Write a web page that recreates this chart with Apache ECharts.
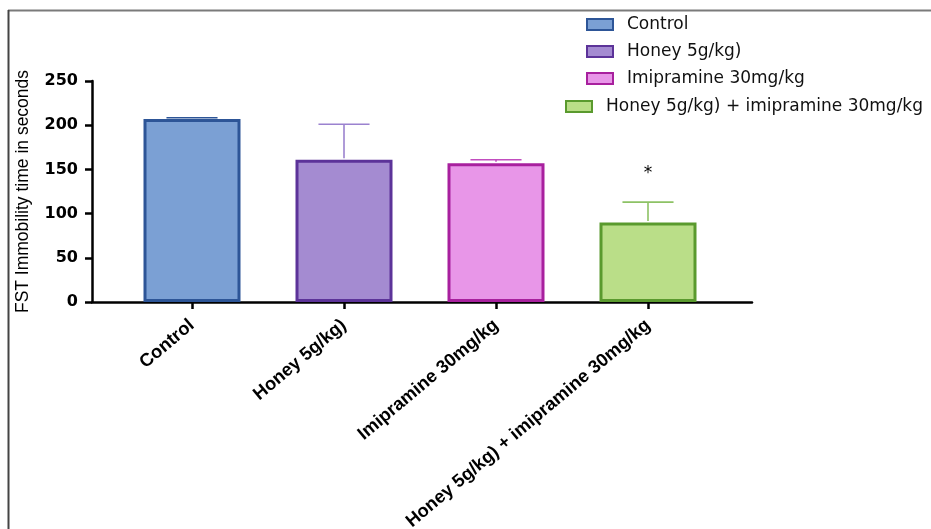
<!DOCTYPE html>
<html><head><meta charset="utf-8">
<script src="https://cdn.jsdelivr.net/npm/echarts@6/dist/echarts.min.js"></script>
<style>html,body{margin:0;padding:0;background:#fff}#c{width:931px;height:529px}</style>
</head><body><div id="c"></div>
<script>
const categories = ['Control', 'Honey 5g/kg)', 'Imipramine 30mg/kg', 'Honey 5g/kg) + imipramine 30mg/kg'];
const means = [207, 161, 157, 90];
const errors = [1.5, 40, 4, 23];
const significance = ['', '', '', '*'];
const yMin = 0, yMax = 250, yInterval = 50;
const yAxisTitle = 'FST Immobility time in seconds';
const fillColors = ['#7BA0D4', '#A48BD1', '#E896E8', '#BADE88'];
const borderColors = ['#2D5597', '#5C3399', '#A8209E', '#5A9A2E'];
const errorColors = ['#2D5597', '#9B82CF', '#C24DBF', '#8DC265'];

const chart = echarts.init(document.getElementById('c'));

const barSeries = categories.map((name, i) => ({
  name: name,
  type: 'bar',
  xAxisIndex: 1, yAxisIndex: 1,
  barWidth: 97,
  barGap: '-100%',
  data: categories.map((c, j) => j === i ? means[j] : '-'),
  itemStyle: { color: fillColors[i], borderColor: borderColors[i], borderWidth: 3 },
  z: 3
}));

const legendTops = [16, 43, 70, 98];
const legendLefts = [586, 586, 586, 565];
const legends = categories.map((name, i) => ({
  data: [name],
  left: legendLefts[i], top: legendTops[i],
  padding: 0,
  itemWidth: 26, itemHeight: 11,
  icon: 'rect',
  selectedMode: false,
  textStyle: { fontFamily: 'DejaVu Sans', fontSize: 17, color: '#111', padding: [0, 0, 0, 9] }
}));

const option = {
  animation: false,
  backgroundColor: '#fff',
  legend: legends,
  graphic: [
    { type: 'line', shape: { x1: 8, y1: 10.5, x2: 931, y2: 10.5 }, style: { stroke: '#7a7a7a', lineWidth: 2 } },
    { type: 'line', shape: { x1: 8.5, y1: 10, x2: 8.5, y2: 529 }, style: { stroke: '#444', lineWidth: 2 } }
  ],
  grid: [
    { left: 92, right: 179, top: 81, bottom: 227, containLabel: false, outerBoundsMode: 'none' },
    { left: 116, right: 207, top: 81, bottom: 227, containLabel: false, outerBoundsMode: 'none' }
  ],
  xAxis: [
    { gridIndex: 0, type: 'value', min: 0, max: 1,
      axisLine: { show: true, lineStyle: { color: '#000', width: 2.5 } },
      axisTick: { show: false }, axisLabel: { show: false }, splitLine: { show: false } },
    { gridIndex: 1, type: 'category', data: categories,
      axisLine: { show: false },
      axisTick: { show: true, alignWithLabel: true, length: 7, lineStyle: { color: '#000', width: 2.5 } },
      axisLabel: { rotate: 40, interval: 0, margin: 21, fontFamily: 'Liberation Sans', fontWeight: 'bold', fontSize: 18.3, color: '#000' },
      splitLine: { show: false } }
  ],
  yAxis: [
    { gridIndex: 0, type: 'value', min: yMin, max: yMax, interval: yInterval,
      name: yAxisTitle, nameLocation: 'middle', nameGap: 60, nameRotate: 90,
      nameTextStyle: { fontFamily: 'Liberation Sans', fontSize: 17.5, color: '#000' },
      axisLine: { show: true, lineStyle: { color: '#000', width: 2.5 } },
      axisTick: { show: true, length: 7, lineStyle: { color: '#000', width: 2.5 } },
      axisLabel: { margin: 14, fontFamily: 'DejaVu Sans', fontWeight: 'bold', fontSize: 16, color: '#000' },
      splitLine: { show: false } },
    { gridIndex: 1, type: 'value', min: yMin, max: yMax, interval: yInterval, show: false, splitLine: { show: false } }
  ],
  series: barSeries.concat([{
    type: 'custom',
    xAxisIndex: 1, yAxisIndex: 1,
    z: 4,
    data: categories.map((c, i) => [i, means[i], errors[i]]),
    renderItem: function (params, api) {
      const i = api.value(0), m = api.value(1), e = api.value(2);
      const base = api.coord([i, m]);
      const top = api.coord([i, m + e]);
      const half = api.size([1, 0])[0] * 0.168;
      const col = errorColors[params.dataIndex];
      const children = [
        { type: 'line', shape: { x1: base[0], y1: base[1] - 1.5, x2: top[0], y2: top[1] }, style: { stroke: col, lineWidth: 1.6 } },
        { type: 'line', shape: { x1: top[0] - half, y1: top[1], x2: top[0] + half, y2: top[1] }, style: { stroke: col, lineWidth: 1.6 } }
      ];
      const s = significance[params.dataIndex];
      if (s) {
        children.push({ type: 'text', style: { text: s, x: top[0], y: top[1] - 29, align: 'center', verticalAlign: 'middle', fontFamily: 'DejaVu Sans', fontSize: 17, fill: '#000' } });
      }
      return { type: 'group', children: children };
    }
  }])
};
chart.setOption(option);
</script>
</body></html>
